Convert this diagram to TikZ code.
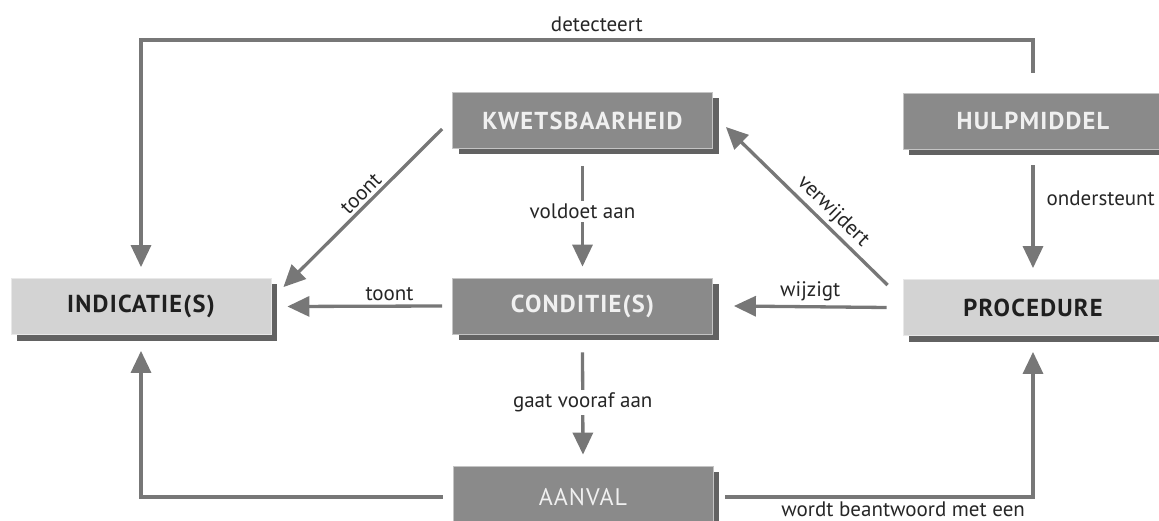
\documentclass[tikz,border=0pt]{standalone}
\usepackage{fontspec}
\setmainfont{PT Sans}
\usetikzlibrary{arrows.meta,shadows}

\definecolor{linegray}{HTML}{777777}
\definecolor{darkfill}{HTML}{8A8A8A}
\definecolor{lightfill}{HTML}{D3D3D3}
\definecolor{shadowgray}{HTML}{626262}
\definecolor{darkedge}{HTML}{C4C4C4}
\definecolor{lightedge}{HTML}{E8E8E8}

\tikzset{
  box/.style={rectangle, minimum width=260pt, minimum height=56pt, inner sep=0pt,
    font=\fontsize{24.5}{28}\selectfont\bfseries\addfontfeatures{LetterSpace=5},
    line width=0.8pt,
    general shadow={fill=shadowgray, shadow xshift=6pt, shadow yshift=-6pt}},
  darkbox/.style={box, fill=darkfill, draw=darkedge, text=white!94!black},
  lightbox/.style={box, fill=lightfill, draw=lightedge, text=black!88},
  conn/.style={draw=linegray, line width=3.3pt,
    -{Triangle[length=22pt,width=20pt]}},
  lbl/.style={font=\fontsize{21}{25}\selectfont, text=black!85, inner sep=2pt},
  onlbl/.style={lbl, fill=white, inner sep=3pt}
}

\begin{document}
\begin{tikzpicture}[x=1pt,y=-1pt]
  \useasboundingbox (0,0) rectangle (1159,521);
  \clip (0,0) rectangle (1159,521);

  % concept boxes
  \node[lightbox] (ind)  at (141,306.5) {INDICATIE(S)};
  \node[darkbox]  (kw)   at (582.5,120.5) {KWETSBAARHEID};
  \node[darkbox]  (hulp) at (1033,121) {HULPMIDDEL};
  \node[darkbox]  (cond) at (582.5,306) {CONDITIE(S)};
  \node[lightbox] (proc) at (1033,307.5) {PROCEDURE};
  \node[darkbox, minimum height=62pt,
    font=\fontsize{24}{28}\selectfont\addfontfeatures{LetterSpace=4}] (aan) at (583,497) {AANVAL};

  % corners of the frame-top connector
  \coordinate (topR) at (1033,40);
  \coordinate (topL) at (141,40);

  % tool detects indications
  \draw[conn] ([yshift=20pt]hulp.north) -- (topR)
    -- node[lbl, above, pos=0.489, yshift=5pt] {detecteert} (topL)
    -- ([yshift=11pt]ind.north);

  % tool supports procedure
  \draw[conn] ([yshift=-16pt]hulp.south) --
    node[lbl, right, pos=0.32, xshift=10pt] {ondersteunt} ([yshift=11pt]proc.north);

  % vulnerability meets conditions
  \draw[conn] ([yshift=-17pt]kw.south) --
    node[onlbl, pos=0.45] {voldoet aan} ([yshift=11pt]cond.north);

  % conditions precede attack
  \draw[conn] ([yshift=-18pt]cond.south) --
    node[onlbl, pos=0.49] {gaat vooraf aan} ([yshift=11pt]aan.north);

  % conditions show indications
  \draw[conn] ([xshift=-10pt]cond.west) --
    node[lbl, above, pos=0.34, yshift=2pt] {toont} ([xshift=16pt]ind.east);

  % procedure changes conditions
  \draw[conn] ([xshift=-16pt]proc.west) --
    node[lbl, above, pos=0.5, yshift=2pt] {wijzigt} ([xshift=21pt]cond.east);

  % vulnerability shows indications
  \draw[conn] ([xshift=-10pt,yshift=-8.5pt]kw.west) --
    node[lbl, above, sloped, pos=0.46, yshift=1pt] {toont} ([xshift=12pt,yshift=-9pt]ind.north east);

  % procedure removes vulnerability
  \draw[conn] ([xshift=-15pt,yshift=-6pt]proc.north west) --
    node[lbl, above, sloped, pos=0.40, yshift=1pt] {verwijdert} ([xshift=13pt,yshift=-6.5pt]kw.east);

  % attack shows indications
  \draw[conn] ([xshift=-10pt]aan.west) -| ([yshift=-16pt]ind.south);

  % attack is answered with a procedure
  \draw[conn] ([xshift=12pt]aan.east) -|
    node[lbl, below, pos=0.289, yshift=-1pt] {wordt beantwoord met een} ([yshift=-16pt]proc.south);
\end{tikzpicture}
\end{document}
